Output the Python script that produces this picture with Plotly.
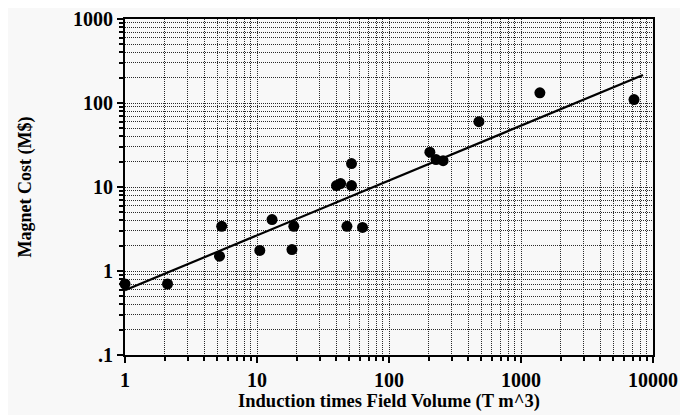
import plotly.graph_objects as go

# Data
field_volume = [1, 2.1, 5.2, 5.4, 10.5, 13, 18.4, 19, 40, 43, 52, 52, 48, 63,
                204, 227, 257, 480, 1390, 7180]
magnet_cost = [0.70, 0.70, 1.50, 3.4, 1.76, 4.1, 1.8, 3.4, 10.4, 11, 19, 10.4,
               3.4, 3.3, 26, 21.2, 20.6, 60, 132, 110]

fit_x = [1, 8400]
fit_y = [0.59, 216]

x_tickvals = [1, 10, 100, 1000, 10000]
x_ticktext = ["1", "10", "100", "1000", "10000"]
y_tickvals = [0.1, 1, 10, 100, 1000]
y_ticktext = [".1", "1", "10", "100", "1000"]

x_minor = [m * 10 ** d for d in range(0, 4) for m in range(2, 10)]
y_minor = [m * 10 ** d for d in range(-1, 3) for m in range(2, 10)]

BG = "#f8f8f8"
FONT = "Liberation Serif"

fig = go.Figure()
fig.add_trace(go.Scatter(x=fit_x, y=fit_y, mode="lines",
                         line=dict(color="black", width=2.2),
                         showlegend=False, hoverinfo="skip"))
fig.add_trace(go.Scatter(x=field_volume, y=magnet_cost, mode="markers",
                         marker=dict(color="black", size=11),
                         cliponaxis=False, showlegend=False))

grid = dict(gridcolor="#2a2a2a", gridwidth=1, griddash="1px,1px")

fig.update_layout(
    width=688, height=415,
    margin=dict(l=117, r=43, t=11, b=68),
    paper_bgcolor=BG, plot_bgcolor=BG,
    font=dict(family=FONT, size=18, color="black"),
    xaxis=dict(
        type="log", range=[-0.00001, 4.00001], automargin=False,
        ticklabeloverflow="allow",
        tickmode="array", tickvals=x_tickvals, ticktext=x_ticktext,
        tickfont=dict(family=FONT, size=20, weight="bold"),
        ticks="outside", ticklen=6, tickwidth=2, tickcolor="black",
        showline=True, linecolor="black", linewidth=2, mirror=True,
        showgrid=True, **grid,
        minor=dict(tickmode="array", tickvals=x_minor, ticks="outside",
                   ticklen=4, tickwidth=1.5, tickcolor="black",
                   showgrid=True, **grid),
        title=dict(text="Induction times Field Volume (T m^3)",
                   font=dict(family=FONT, size=18.5, weight="bold"), standoff=2),
        zeroline=False,
    ),
    yaxis=dict(
        type="log", range=[-1.00001, 3.00001], automargin=False,
        ticklabeloverflow="allow",
        tickmode="array", tickvals=y_tickvals, ticktext=y_ticktext,
        tickfont=dict(family=FONT, size=20, weight="bold"),
        ticks="outside", ticklen=6, tickwidth=2, tickcolor="black",
        showline=True, linecolor="black", linewidth=2, mirror=True,
        showgrid=True, **grid,
        minor=dict(tickmode="array", tickvals=y_minor, ticks="outside",
                   ticklen=4, tickwidth=1.5, tickcolor="black",
                   showgrid=True, **grid),
        title=dict(text="Magnet Cost (M$)",
                   font=dict(family=FONT, size=18, weight="bold"), standoff=37),
        zeroline=False,
    ),
)

fig.write_html("out.html")
